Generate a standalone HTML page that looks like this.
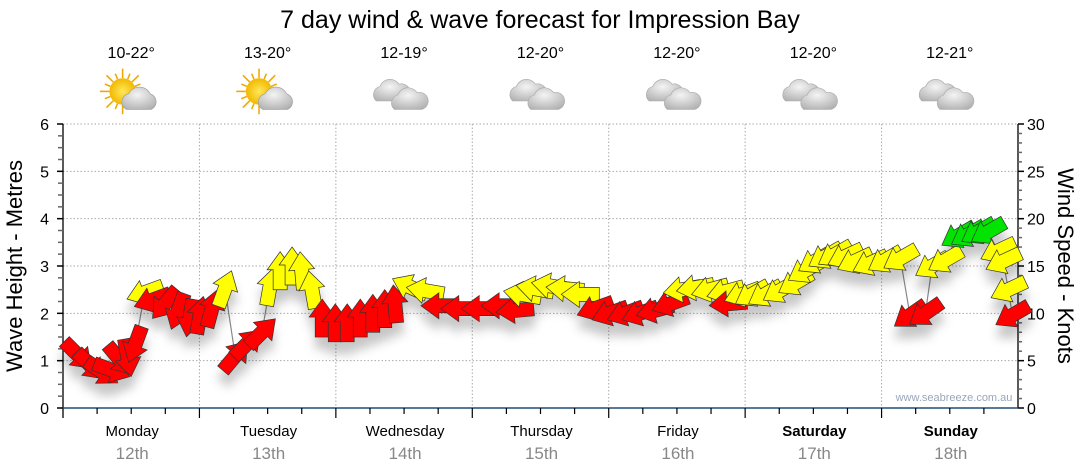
<!DOCTYPE html>
<html><head><meta charset="utf-8">
<style>
html,body{margin:0;padding:0;background:#fff;}
svg{display:block;font-family:"Liberation Sans",sans-serif;}
</style></head>
<body>
<svg id="chart" width="1080" height="475" viewBox="0 0 1080 475">
<defs>
<filter id="shadow" x="-50%" y="-50%" width="200%" height="250%">
<feDropShadow dx="0" dy="12" stdDeviation="5" flood-color="#000" flood-opacity="0.22"/>
</filter>
<radialGradient id="cloudg" cx="0.45" cy="0.35" r="0.8"><stop offset="0" stop-color="#f4f4f4"/><stop offset="1" stop-color="#a9a9a9"/></radialGradient>
<radialGradient id="sung" cx="0.5" cy="0.5" r="0.5"><stop offset="0" stop-color="#ffe85a"/><stop offset="1" stop-color="#f2b800"/></radialGradient>
</defs>
<text x="540" y="28" text-anchor="middle" font-size="25" fill="#000">7 day wind &amp; wave forecast for Impression Bay</text>
<g id="grid"></g>
<g id="axes"></g>
<g id="days"></g>
<g id="weather"></g>
<g id="marks"></g>
<text x="954" y="401" text-anchor="middle" font-size="11" fill="#9aa6b8">www.seabreeze.com.au</text>
<text transform="translate(22,266) rotate(-90)" text-anchor="middle" font-size="22" fill="#000">Wave Height - Metres</text>
<text transform="translate(1058,266) rotate(90)" text-anchor="middle" font-size="22" fill="#000">Wind Speed - Knots</text>
</svg>
<script>
const dayNames=["Monday","Tuesday","Wednesday","Thursday","Friday","Saturday","Sunday"];
const dayDates=["12th","13th","14th","15th","16th","17th","18th"];
const temps=["10-22°","13-20°","12-19°","12-20°","12-20°","12-20°","12-21°"];
const icons=["suncloud","suncloud","cloud","cloud","cloud","cloud","cloud"];
const leftTicks=[0,1,2,3,4,5,6];
const rightTicks=[0,5,10,15,20,25,30];
// hours from Monday 00:00
const hours=[2.6,4.8,6.9,8.6,10.0,11.4,12.7,14.4,15.7,17.9,20.2,22.3,24.1,26.2,28.5,
30.3,32.4,35.0,36.4,38.2,40.3,42.0,43.8,45.6,47.9,50.0,52.3,54.5,56.6,58.4,
61.0,63.7,66.3,69.8,73.4,76.9,79.5,
80.8,83.0,85.7,88.3,91.0,93.6,96.2,98.9,101.5,104.1,106.8,
108.9,111.2,113.8,116.5,117.0,119.5,121.2,123.5,126.1,128.8,
130.5,132.3,134.1,135.8,137.6,139.3,142.0,144.6,147.3,149.0,151.7,
152.9,155.2,157.5,159.2,161.0,162.7,164.5,165.4,166.3,167.0];
const knots=[5.6,4.5,3.8,4.0,5.1,5.3,6.7,12.2,11.4,11.0,10.2,9.5,9.8,10.5,12.6,
5.5,6.8,8.0,12.8,14.5,15.0,14.5,12.5,9.5,9.0,9.0,9.5,10.0,10.5,11.0,
12.8,12.4,10.8,10.5,10.5,10.8,10.3,
12.0,12.6,12.9,12.6,12.0,10.5,10.0,10.0,10.0,10.3,11.0,
12.5,12.7,12.5,12.3,11.0,12.0,12.0,12.0,12.4,13.2,
14.5,15.5,16.0,16.2,16.0,15.5,15.3,15.6,15.8,9.8,10.0,
15.0,15.6,18.2,18.3,18.6,18.6,16.6,15.5,12.5,9.8];
// compass bearing the arrow points to, degrees
const heading=[135,135,125,110,140,170,200,250,250,220,200,190,10,15,20,
40,45,45,10,0,0,355,350,0,0,0,0,0,0,355,
295,280,270,270,270,270,265,
280,280,280,275,270,250,250,250,250,255,250,
260,260,255,255,265,250,240,240,240,240,
240,240,240,240,245,245,245,240,240,235,235,
240,240,240,240,240,240,245,245,245,240];

const NS="http://www.w3.org/2000/svg";
const X0=63,X1=1018,Y0=408,Y1=124;
const dayW=(X1-X0)/7;
const xOf=h=>X0+h*dayW/24;
const yMetre=m=>Y0-(m/6)*(Y0-Y1);
const yKnot=k=>Y0-(k/30)*(Y0-Y1);
function el(tag,attrs,parent){const e=document.createElementNS(NS,tag);for(const k in attrs)e.setAttribute(k,attrs[k]);parent.appendChild(e);return e;}
const grid=document.getElementById('grid'),axes=document.getElementById('axes'),days=document.getElementById('days'),weather=document.getElementById('weather'),marks=document.getElementById('marks');

leftTicks.forEach(v=>{if(v===0)return;const y=yMetre(v);
 const g=el('line',{x1:X0,x2:X1,y1:y,y2:y,stroke:'#aaa','stroke-dasharray':'1.5,2'},grid);
 
 });
for(let d=1;d<7;d++){const x=X0+d*dayW;
 const g=el('line',{x1:x,x2:x,y1:Y1,y2:Y0,stroke:'#aaa','stroke-dasharray':'1.5,2'},grid);
 
 }

el('line',{x1:X0,x2:X0,y1:Y1,y2:Y0+10,stroke:'#000','stroke-width':1.3},axes);
for(let i=0;i<=24;i++){const y=yMetre(i/4);el('line',{x1:X0-(i%4?5:6),x2:X0,y1:y,y2:y,stroke:i%4?'#666':'#000','stroke-width':1.5},axes);}
leftTicks.forEach(v=>{const t=el('text',{x:X0-14,y:yMetre(v)+6,'text-anchor':'end','font-size':16,fill:'#000'},axes);t.textContent=v;
 
 });
el('line',{x1:X1,x2:X1,y1:Y1,y2:Y0,stroke:'#000','stroke-width':1.3},axes);
for(let i=0;i<=30;i++){const y=yKnot(i);el('line',{x1:X1,x2:X1+(i%5?4:6),y1:y,y2:y,stroke:i%5?'#666':'#000','stroke-width':1.5},axes);}
rightTicks.forEach(v=>{const t=el('text',{x:X1+9,y:yKnot(v)+6,'font-size':16,fill:'#000'},axes);t.textContent=v;
 
 });
el('line',{x1:X0,x2:X1,y1:Y0,y2:Y0,stroke:'#1f4e79','stroke-width':1.5},axes);
for(let i=1;i<28;i++){const x=X0+i*dayW/4;el('line',{x1:x,x2:x,y1:Y0,y2:Y0+(i%4?6:10),stroke:'#000','stroke-width':1.2},axes);}

for(let d=0;d<7;d++){const cx=X0+d*dayW+dayW/2+1;
 const a=el('text',{x:cx,y:436,'text-anchor':'middle','font-size':15,fill:'#000','font-weight':d>=5?'bold':'normal'},days);a.textContent=dayNames[d];
 
 
 const b=el('text',{x:cx,y:459,'text-anchor':'middle','font-size':17,fill:'#888'},days);b.textContent=dayDates[d];
 
 
 const t=el('text',{x:cx-1,y:58,'text-anchor':'middle','font-size':16,fill:'#000'},weather);t.textContent=temps[d];
 
 
 const g=el('g',{transform:`translate(${cx},95) scale(1.2)`},weather);
 
 
 if(icons[d]==='suncloud'){
  for(let r=0;r<16;r++){const an=r*Math.PI/8;el('line',{x1:-8+Math.cos(an)*11,y1:-3+Math.sin(an)*11,x2:-8+Math.cos(an)*(r%2?16:19),y2:-3+Math.sin(an)*(r%2?16:19),stroke:'#f0a800','stroke-width':1.3},g);}
  el('circle',{cx:-8,cy:-3,r:11,fill:'url(#sung)'},g);
  el('path',{d:'M-5,12 a7,7 0 0 1 2,-13 a10,10 0 0 1 18,0 a7,7 0 0 1 1,13 z',fill:'url(#cloudg)',stroke:'#999','stroke-width':0.5},g);
 }else{
  el('path',{d:'M-24,5 a7,7 0 0 1 3,-12 a9,9 0 0 1 16,-2 a7,7 0 0 1 4,14 z',fill:'url(#cloudg)',stroke:'#aaa','stroke-width':0.5},g);
  el('path',{d:'M-9,12 a7,7 0 0 1 3,-12 a9,9 0 0 1 16,-2 a7,7 0 0 1 4,14 z',fill:'url(#cloudg)',stroke:'#aaa','stroke-width':0.5},g);
 }
}

const pts=hours.map((h,i)=>xOf(h)+','+yKnot(knots[i])).join(' ');
const pl=el('polyline',{points:pts,fill:'none',stroke:'#888','stroke-width':1.2},marks);


const ag=el('g',{filter:'url(#shadow)'},marks);
const shape='M-19,-7 L1,-7 L1,-13 L19,0 L1,13 L1,7 L-19,7 Z';
hours.forEach((h,i)=>{
 const k=knots[i];
 const col=k<12?'#ff0000':(k<18?'#ffff00':'#00e400');
 const ang=heading[i]-90;
 const p=el('path',{d:shape,fill:col,stroke:'#333','stroke-width':0.7,transform:`translate(${xOf(h)},${yKnot(k)}) rotate(${ang})`},ag);
 
 
});
</script>
</body></html>
